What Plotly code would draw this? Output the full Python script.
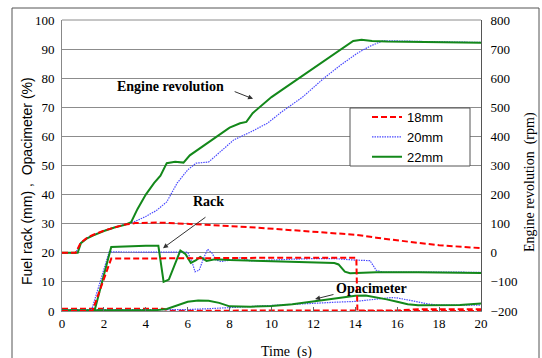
import plotly.graph_objects as go

# ---------------- data ----------------
# Engine revolution (rpm, right axis)
t_eng_22 = [0, 0.75, 0.9, 1.2, 1.5, 2.0, 2.5, 3.0, 3.3, 3.6, 4.0, 4.4, 4.7, 5.0, 5.4, 5.8, 6.1, 6.5, 7.0, 7.5, 8.0, 8.5, 8.8, 9.1, 9.5, 10.0, 10.5, 11.0, 11.5, 12.0, 12.5, 13.0, 13.5, 13.9, 14.3, 14.8, 15.5, 17.0, 18.5, 20.0]
eng_22 = [0, 0, 33, 50, 60, 75, 87, 96, 105, 150, 200, 240, 265, 308, 313, 310, 335, 355, 380, 405, 430, 445, 450, 480, 505, 535, 560, 585, 610, 635, 660, 685, 710, 728, 732, 728, 726, 724, 723, 722]

t_eng_20 = [0, 0.65, 0.9, 1.2, 1.5, 2.0, 2.5, 3.0, 3.5, 4.0, 4.5, 5.0, 5.5, 6.0, 6.4, 7.0, 7.5, 8.2, 9.0, 9.8, 10.5, 11.5, 12.5, 13.3, 14.1, 14.7, 15.3, 16.0, 18.0, 20.0]
eng_20 = [0, 0, 35, 52, 62, 76, 87, 97, 108, 125, 145, 175, 240, 285, 308, 312, 345, 388, 415, 445, 485, 536, 600, 645, 686, 710, 728, 728, 725, 723]

t_eng_18 = [0, 0.65, 0.9, 1.2, 1.5, 2.0, 2.5, 3.0, 3.5, 4.0, 4.5, 5.0, 6.0, 7.0, 8.0, 9.0, 10.0, 11.0, 12.0, 13.0, 14.0, 15.0, 16.0, 17.0, 18.0, 19.0, 20.0]
eng_18 = [0, 0, 35, 52, 62, 76, 87, 97, 102, 104, 104, 103, 100, 96, 92, 88, 83, 79, 74, 69, 62, 52, 42, 34, 26, 20, 16]

# Fuel rack (mm, left axis)
t_rack_22 = [0, 1.55, 2.35, 3.0, 4.0, 4.6, 4.65, 4.85, 5.1, 5.4, 5.65, 5.9, 6.15, 6.4, 6.6, 6.9, 7.3, 8.0, 9.0, 10.0, 11.0, 12.0, 13.0, 13.2, 13.5, 13.75, 14.2, 15.0, 17.0, 20.0]
rack_22 = [0, 0, 22.0, 22.2, 22.4, 22.4, 20.0, 10.0, 10.8, 16.0, 20.8, 19.5, 16.5, 17.5, 18.6, 17.2, 17.8, 17.5, 17.3, 17.2, 16.8, 16.7, 16.5, 16.0, 13.5, 13.0, 13.2, 13.3, 13.3, 13.1]

t_rack_20 = [0, 1.4, 2.25, 3.0, 4.0, 5.0, 6.0, 6.2, 6.35, 6.55, 6.75, 6.95, 7.15, 7.35, 7.6, 8.0, 8.5, 9.0, 10.0, 11.0, 12.0, 13.0, 14.0, 14.7, 15.0, 15.3, 17.0, 20.0]
rack_20 = [0, 0, 20.3, 20.3, 20.2, 20.2, 20.2, 17.0, 13.5, 14.0, 18.0, 21.2, 20.0, 17.5, 17.0, 17.5, 18.3, 17.2, 17.6, 17.8, 18.0, 18.0, 17.5, 17.3, 14.0, 13.4, 13.4, 13.3]

t_rack_18 = [0, 1.45, 2.35, 3.0, 5.0, 8.0, 10.0, 12.0, 14.0, 14.05, 14.1, 20.0]
rack_18 = [0, 0, 18.0, 18.0, 18.0, 18.2, 18.3, 18.3, 18.3, 18.3, 0, 0]

# Opacimeter (%, left axis)
t_opa_22 = [0, 4.5, 5.0, 5.5, 6.0, 6.5, 7.0, 7.5, 8.0, 9.0, 10.0, 11.0, 12.0, 13.0, 14.0, 14.5, 15.0, 15.5, 16.0, 16.5, 17.0, 18.0, 19.0, 20.0]
opa_22 = [0.3, 0.3, 0.7, 2.0, 3.2, 3.6, 3.5, 2.8, 1.6, 1.5, 1.7, 2.3, 3.2, 4.2, 5.2, 5.3, 4.7, 4.0, 3.2, 2.3, 2.0, 2.0, 2.1, 2.6]

t_opa_20 = [0, 5.0, 6.0, 7.0, 8.0, 9.0, 10.0, 11.0, 12.0, 13.0, 14.0, 15.0, 15.7, 16.0, 16.5, 17.0, 17.5, 18.0, 20.0]
opa_20 = [0.5, 0.5, 0.5, 0.8, 1.2, 1.5, 1.8, 2.2, 2.6, 3.0, 3.3, 4.0, 4.6, 4.5, 3.8, 3.0, 2.4, 2.0, 2.0]

t_opa_18 = [0, 4.8, 5.2, 14.0, 16.0, 17.0, 20.0]
opa_18 = [0.8, 0.8, 0.1, 0.1, 0.2, 0.6, 0.6]

series_names = ["18mm", "20mm", "22mm"]
x_ticks = [0, 2, 4, 6, 8, 10, 12, 14, 16, 18, 20]

# ---------------- styles ----------------
RED = "#ff0000"
BLUE = "#4a4aff"
GREEN = "#13881a"
SERIF = "Liberation Serif, Times New Roman, serif"
SANS = "Liberation Sans, Arial, sans-serif"

red_line = dict(color=RED, width=2, dash="6px,3px")
blue_line = dict(color=BLUE, width=1.2, dash="1.5px,1px")
green_line = dict(color=GREEN, width=2)

fig = go.Figure()

def add(t, v, line, name, show, axis="y"):
    fig.add_trace(go.Scatter(x=t, y=v, mode="lines", line=line, name=name,
                             showlegend=show, yaxis=axis, legendrank=series_names.index(name)))

# opacimeter
add(t_opa_18, opa_18, red_line, "18mm", False)
add(t_opa_20, opa_20, blue_line, "20mm", False)
add(t_opa_22, opa_22, green_line, "22mm", False)
# rack
add(t_rack_20, rack_20, blue_line, "20mm", False)
add(t_rack_22, rack_22, green_line, "22mm", False)
add(t_rack_18, rack_18, red_line, "18mm", False)
# engine revolution
add(t_eng_20, eng_20, blue_line, "20mm", True, "y2")
add(t_eng_22, eng_22, green_line, "22mm", True, "y2")
add(t_eng_18, eng_18, red_line, "18mm", True, "y2")

W, H = 542, 358
L, R, T, B = 62, 481, 20, 311

def px(xp):
    return (xp - L) / (R - L)

def py(yp):
    return (B - yp) / (B - T)

fig.update_layout(
    width=W, height=H,
    margin=dict(l=L, r=W - R, t=T, b=H - B, autoexpand=False),
    paper_bgcolor="white", plot_bgcolor="white",
    font=dict(family=SERIF, size=13, color="black"),
    showlegend=True,
    legend=dict(x=px(449), y=py(102), xanchor="right", yanchor="top",
                bgcolor="rgba(0,0,0,0)", borderwidth=0,
                font=dict(family=SANS, size=13, color="black"),
                traceorder="normal", itemwidth=30, tracegroupgap=0),
    xaxis=dict(range=[0, 20], tickvals=x_ticks, ticks="inside", ticklen=4,
               tickcolor="#666", showgrid=False, zeroline=False,
               showline=True, linecolor="#888", linewidth=1,
               tickfont=dict(family=SERIF, size=13)),
    yaxis=dict(range=[0, 100], dtick=10, showgrid=True, gridcolor="#8c8c8c",
               gridwidth=1, zeroline=False, showline=True, linecolor="#888",
               ticks="", tickfont=dict(family=SERIF, size=13), ticklabelstandoff=4),
    yaxis2=dict(range=[-200, 800], dtick=100, overlaying="y", side="right",
                showgrid=False, zeroline=False, showline=True, linecolor="#555",
                ticks="", tickfont=dict(family=SERIF, size=13), ticklabelstandoff=6),
)

shapes = [
    # outer frame
    dict(type="rect", xref="paper", yref="paper", x0=px(12), x1=px(539), y0=py(368), y1=py(8),
         line=dict(color="#555", width=1), fillcolor="rgba(0,0,0,0)", layer="below"),
    # top border of plot
    dict(type="line", xref="paper", yref="paper", x0=0, x1=1, y0=1, y1=1,
         line=dict(color="#8c8c8c", width=1)),
    # legend box
    dict(type="rect", xref="paper", yref="paper", x0=px(350), x1=px(470), y0=py(166), y1=py(108),
         line=dict(color="#555", width=1), fillcolor="white", layer="above", opacity=1),
]

C = dict(xanchor="center", yanchor="middle")
annotations = [
    # axis titles
    dict(text="Fuel rack (mm) ,  Opacimeter (%)", xref="paper", yref="paper",
         x=px(27), y=py(181), textangle=-90, showarrow=False,
         font=dict(family=SANS, size=14, color="black"), **C),
    dict(text="Engine revolution  (rpm)", xref="paper", yref="paper",
         x=px(530), y=py(182), textangle=-90, showarrow=False,
         font=dict(family=SERIF, size=14, color="black"), **C),
    dict(text="Time  (s)", xref="paper", yref="paper", x=px(286), y=py(352),
         showarrow=False, font=dict(family=SERIF, size=14, color="black"), **C),
    # labels
    dict(text="<b>Engine revolution</b>", x=5.2, y=77.0, xref="x", yref="y",
         showarrow=False, font=dict(family=SERIF, size=14, color="black"), **C),
    dict(text="", x=9.12, y=72.9, ax=8.17, ay=75.6, axref="x", ayref="y", xref="x", yref="y",
         showarrow=True, arrowhead=2, arrowsize=1, arrowwidth=1, arrowcolor="#333"),
    dict(text="<b>Rack</b>", x=6.97, y=37.6, xref="x", yref="y",
         showarrow=False, font=dict(family=SERIF, size=14, color="black"), **C),
    dict(text="", x=4.82, y=21.6, ax=6.92, ay=32.6, axref="x", ayref="y", xref="x", yref="y",
         showarrow=True, arrowhead=2, arrowsize=1, arrowwidth=1, arrowcolor="#333"),
    dict(text="<b>Opacimeter</b>", x=14.75, y=7.6, xref="x", yref="y",
         showarrow=False, font=dict(family=SERIF, size=14, color="black"), **C),
    dict(text="", x=12.08, y=4.1, ax=13.03, ay=5.8, axref="x", ayref="y", xref="x", yref="y",
         showarrow=True, arrowhead=2, arrowsize=1, arrowwidth=1, arrowcolor="#333"),
]

fig.update_layout(shapes=shapes, annotations=annotations)

fig.write_html("out.html", config={"displayModeBar": False},
               post_script="document.body.style.margin='0';document.body.style.padding='0';")
